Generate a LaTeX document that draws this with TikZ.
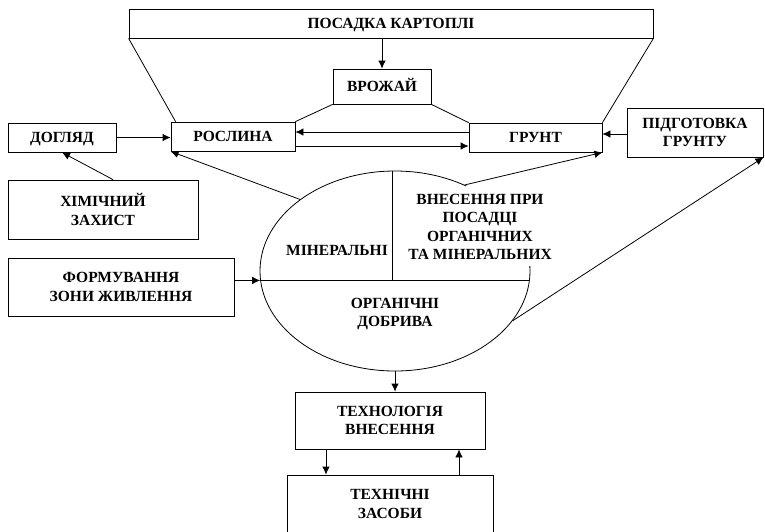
\documentclass[tikz,border=0pt]{standalone}
\usepackage{fontspec}
\setmainfont{Liberation Serif}
\usetikzlibrary{arrows.meta,shapes.geometric,calc}
\begin{document}
\begin{tikzpicture}[x=1pt,y=-1pt,
  txt/.style={font=\fontsize{15.5}{18.5}\selectfont\bfseries, align=center},
  one/.style={text height=10.3pt, text depth=0pt},
  box/.style={draw, line width=0.8pt, inner sep=0pt, txt},
  lbl/.style={inner sep=0pt, txt},
  arr/.style={-{Latex[length=8pt,width=7.5pt]}, line width=0.8pt},
  ln/.style={line width=0.8pt}]
\clip (0,0) rectangle (765,531);
\fill[white] (0,0) rectangle (765,531);
% boxes
\node[box, one, minimum width=524, minimum height=29] (pos) at (391,23.5) {ПОСАДКА КАРТОПЛІ};
\node[box, one, minimum width=98, minimum height=35] (vro) at (382,86.5) {ВРОЖАЙ};
\node[box, one, minimum width=124, minimum height=29] (ros) at (233,136.5) {РОСЛИНА};
\node[box, one, minimum width=133, minimum height=29] (gru) at (535.5,137.5) {ГРУНТ};
\node[box, one, minimum width=108, minimum height=29] (dog) at (62,137.5) {ДОГЛЯД};
\node[box, minimum width=190, minimum height=59] (khi) at (103,209.5) {ХІМІЧНИЙ\\ЗАХИСТ};
\node[box, minimum width=136, minimum height=49] (pid) at (695,132.5) {ПІДГОТОВКА\\ГРУНТУ};
\node[box, minimum width=226, minimum height=58] (for) at (121,287) {ФОРМУВАННЯ\\ЗОНИ ЖИВЛЕННЯ};
\node[box, minimum width=190, minimum height=57] (tec) at (390,420.5) {ТЕХНОЛОГІЯ\\ВНЕСЕННЯ};
\node[box, minimum width=206, minimum height=58] (zas) at (390,504) {ТЕХНІЧНІ\\ЗАСОБИ};
% ellipse
\node[draw, ellipse, line width=0.8pt, minimum width=270, minimum height=200, inner sep=0pt] (ell) at (395,271) {};
\node[fill=white, minimum width=82, minimum height=80, inner sep=0pt] (cov) at (507,226) {};
\coordinate (hl) at (ell.184);
\coordinate (hr) at (ell.-4);
\draw[ln] (hl) -- (hr);
\coordinate (vt) at ([xshift=-3pt]ell.north);
\draw[ln] (vt) -- (vt |- hl);
\node[lbl, one] (min) at (337,250) {МІНЕРАЛЬНІ};
\node[lbl] (vne) at (480,227) {ВНЕСЕННЯ ПРИ\\ПОСАДЦІ\\ОРГАНІЧНИХ\\ТА МІНЕРАЛЬНИХ};
\node[lbl] (org) at (395,314) {ОРГАНІЧНІ\\ДОБРИВА};
% trapezoid and plain lines
\draw[ln] (pos.south west) -- ([xshift=5pt]ros.north west);
\draw[ln] (pos.south east) -- (gru.north east);
\draw[ln] (vro.south west) -- (ros.north east);
\draw[ln] (vro.south east) -- (gru.north west);
% arrows
\draw[arr] (pos.south -| vro.north) -- (vro.north);
\coordinate (g1) at ([yshift=5.5pt]gru.west);
\draw[arr] (g1) -- (g1 -| ros.east);
\coordinate (r1) at ([yshift=-9.5pt]ros.east);
\draw[arr] (r1) -- (r1 -| gru.west);
\draw[arr] (dog.east) -- (dog.east -| ros.west);
\draw[arr] ([xshift=10pt]khi.north) -- (dog.south);
\draw[arr] (ell.143) -- (ros.south west);
\draw[arr] (ell.51) -- (gru.south east);
\coordinate (p1) at ([yshift=-1.5pt]pid.west);
\draw[arr] (p1) -- (p1 -| gru.east);
\draw[arr] (ell.-23) -- (pid.south east);
\draw[arr] (for.east |- hl) -- (hl);
\draw[arr] (ell.south) -- (ell.south |- tec.north);
\coordinate (t1) at ([xshift=-64pt]tec.south);
\draw[arr] (t1) -- (t1 |- zas.north);
\coordinate (t2) at ([xshift=69pt]tec.south);
\draw[arr] (t2 |- zas.north) -- (t2);
\end{tikzpicture}
\end{document}
